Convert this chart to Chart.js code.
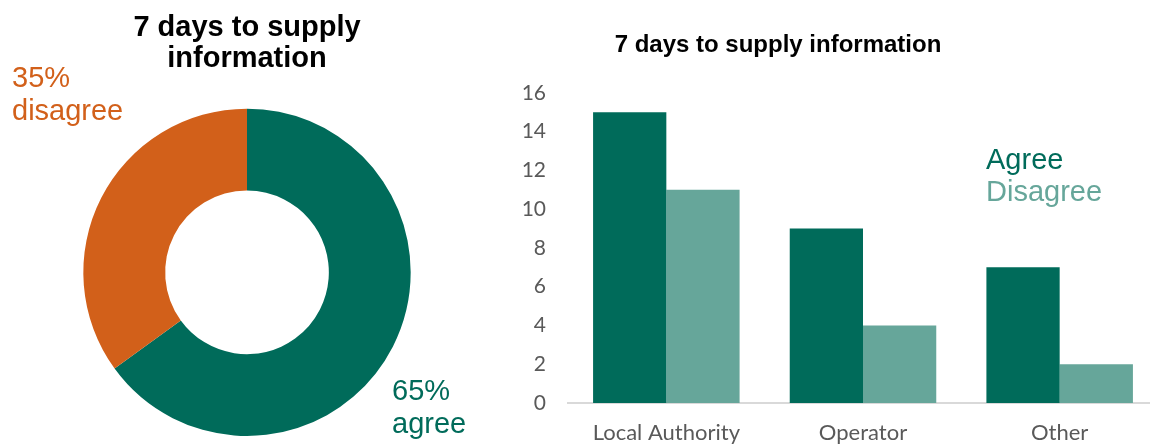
<!DOCTYPE html>
<html>
<head>
<meta charset="utf-8">
<script src="https://cdn.jsdelivr.net/npm/chart.js@4.4.1/dist/chart.umd.min.js"></script>
<style>
html, body { margin: 0; padding: 0; background: #fff; overflow: hidden; width: 1150px; height: 446px; }
#pie { position: absolute; left: 0; top: 0; }
#bars { position: absolute; left: 398px; top: 0; }
</style>
</head>
<body>
<canvas id="pie" width="494" height="446"></canvas>
<canvas id="bars" width="760" height="446"></canvas>
<script>
// data
var shareLabels = ["agree", "disagree"];
var shareValues = [65, 35];
var categories = ["Local Authority", "Operator", "Other"];
var agreeCounts = [15, 9, 7];
var disagreeCounts = [11, 4, 2];
var yMax = 16;
var yStep = 2;

var green = "#006B5A";
var lightGreen = "#66A69A";
var orange = "#D2601A";

Chart.defaults.font.family = "Lato";
Chart.defaults.animation = false;

// percent labels beside the doughnut
var shareText = {
    id: "shareText",
    afterDraw: function(chart){
        var ctx = chart.ctx;
        var ds = chart.data.datasets[0];
        var total = ds.data.reduce(function(a, b){ return a + b; }, 0);
        var spots = chart.options.plugins.shareText.spots;
        ctx.save();
        ctx.font = "29px 'Liberation Sans'";
        ctx.textAlign = "left";
        ctx.textBaseline = "alphabetic";
        for (var i = 0; i < ds.data.length; i++) {
            var s = spots[i];
            ctx.fillStyle = ds.backgroundColor[i];
            ctx.fillText(Math.round(ds.data[i] / total * 100) + "%", s.x, s.y);
            ctx.fillText(chart.data.labels[i], s.x, s.y + 33);
        }
        ctx.restore();
    }
};

// plain text legend inside the bar chart
var textLegend = {
    id: "textLegend",
    afterDraw: function(chart){
        var ctx = chart.ctx;
        var o = chart.options.plugins.textLegend;
        ctx.save();
        ctx.font = "29px 'Liberation Sans'";
        ctx.textAlign = "left";
        ctx.textBaseline = "middle";
        chart.data.datasets.forEach(function(ds, i){
            ctx.fillStyle = ds.backgroundColor;
            ctx.fillText(ds.label, o.x, o.y + i * 32);
        });
        ctx.restore();
    }
};

new Chart("pie", {
    type: "doughnut",
    data: {
        labels: shareLabels,
        datasets: [{
            data: shareValues,
            backgroundColor: [green, orange],
            borderWidth: 0
        }]
    },
    options: {
        responsive: false,
        cutout: "50%",
        layout: { padding: { bottom: 10 } },
        plugins: {
            legend: { display: false },
            tooltip: { enabled: false },
            title: {
                display: true,
                text: ["7 days to supply", "information"],
                color: "#000",
                font: { family: "'Liberation Sans'", size: 29, weight: "bold", lineHeight: 1.08 },
                padding: { top: 12, bottom: 34 }
            },
            shareText: { spots: [{ x: 392, y: 400 }, { x: 12, y: 87 }] }
        }
    },
    plugins: [shareText]
});

new Chart("bars", {
    type: "bar",
    data: {
        labels: categories,
        datasets: [
            { label: "Agree", data: agreeCounts, backgroundColor: green },
            { label: "Disagree", data: disagreeCounts, backgroundColor: lightGreen }
        ]
    },
    options: {
        responsive: false,
        datasets: { bar: { barPercentage: 1, categoryPercentage: 0.745 } },
        scales: {
            x: {
                grid: { display: false, drawTicks: false },
                border: { display: true, color: "#d9d9d9", width: 2 },
                ticks: { color: "#595959", font: { size: 22 }, padding: 17 },
                afterFit: function(scale){ scale.height = 43; }
            },
            y: {
                min: 0,
                max: yMax,
                grid: { display: false, drawTicks: false },
                border: { display: false },
                ticks: { stepSize: yStep, color: "#595959", font: { size: 21 }, padding: 22 },
                afterFit: function(scale){ scale.width = 170; }
            }
        },
        plugins: {
            legend: { display: false },
            tooltip: { enabled: false },
            title: {
                display: true,
                text: "7 days to supply information",
                color: "#000",
                font: { family: "'Liberation Sans'", size: 24, weight: "bold", lineHeight: 1.2 },
                padding: { top: 31, bottom: 33 }
            },
            textLegend: { x: 588, y: 161 }
        }
    },
    plugins: [textLegend]
});
</script>
</body>
</html>
